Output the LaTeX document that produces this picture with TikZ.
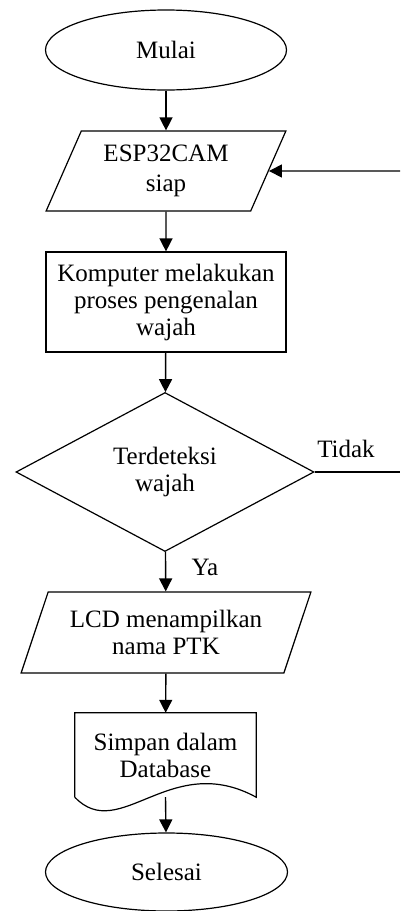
\documentclass[tikz,border=0pt]{standalone}
\usepackage{fontspec}
\setmainfont{Liberation Serif}
\usetikzlibrary{shapes.geometric,arrows.meta}
\tikzset{
        terminal/.style={draw, ellipse, line width=1.2pt, inner sep=0pt, minimum width=241pt, minimum height=80pt},
        io/.style={draw, trapezium, trapezium stretches=true, line width=1.2pt, inner sep=0pt, align=center},
        process/.style={draw, rectangle, line width=1.2pt, inner sep=0pt, align=center, minimum width=240pt, minimum height=100pt},
        decision/.style={draw, diamond, shape aspect=1.87, line width=1.2pt, inner sep=0pt, align=center, minimum width=298pt, minimum height=159pt},
        document/.style={rectangle, inner sep=0pt, align=center, minimum width=181pt, minimum height=84pt},
        arrow/.style={-{Triangle[length=13pt,width=13pt]}, line width=1.4pt}
}

\begin{document}
\begin{tikzpicture}[x=1pt, y=-1pt, font=\fontsize{25}{27}\selectfont]
        \useasboundingbox (0,0) rectangle (400,911);
        \node (mulai) [terminal] at (166, 50) {Mulai};
        \node (esp) [io, minimum width=240pt, minimum height=80pt, trapezium left angle=63.43, trapezium right angle=116.57] at (166, 171) {ESP32CAM\\[3pt]siap};
        \node (komp) [process] at (166, 302) {Komputer melakukan\\proses pengenalan\\wajah};
        \node (dec) [decision] at (165, 472) {Terdeteksi\\wajah};
        \node (lcd) [io, minimum width=290pt, minimum height=81pt, trapezium left angle=63.7, trapezium right angle=116.3] at (166, 632.5) {LCD menampilkan\\nama PTK};
        \node (doc) [document] at (165.5, 755) {Simpan dalam\\Database};
        \node (selesai) [terminal, minimum width=242pt, minimum height=78pt] at (166.5, 872) {Selesai};
        \node (tidak) at (346, 449) {Tidak};
        \node (ya) at (205, 567) {Ya};
        \coordinate (fb) at (400, 171);
        \coordinate (no) at (400, 472);
        % wavy bottom of the document
        \draw [line width=1.2pt] (doc.south west) -- (doc.north west) -- (doc.north east) -- (doc.south east)
                .. controls +(-86,-47) and +(45,47) .. (doc.south west);
        \draw [arrow] (mulai) -- (esp);
        \draw [arrow] (esp) -- (komp);
        \draw [arrow] (komp) -- (dec);
        \draw [arrow] (dec) -- (lcd);
        \draw [arrow] (lcd) -- (doc);
        \draw [arrow] (doc.south) -- (selesai);
        \draw [line width=1.4pt] (dec.east) -- (no);
        \draw [arrow] (fb) -- (esp.east);
\end{tikzpicture}
\end{document}
